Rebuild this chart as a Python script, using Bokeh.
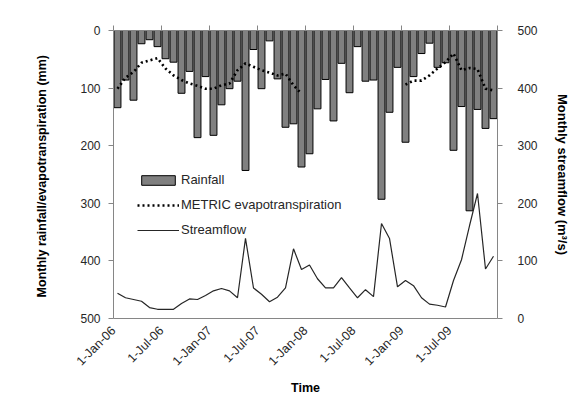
import math
import numpy as np
from bokeh.plotting import figure
from bokeh.models import (Range1d, LinearAxis, FixedTicker, Legend, LegendItem,
                          ColumnDataSource, BoxAnnotation)
from bokeh.embed import file_html
from bokeh.resources import INLINE

# ---- data (monthly, Jan 2006 - Dec 2009) ----
months = list(range(48))
rainfall = [134, 86, 121, 23, 16, 28, 49, 55, 109, 71, 186, 80,
            182, 129, 101, 88, 243, 33, 101, 18, 84, 168, 162, 237,
            214, 136, 85, 157, 57, 108, 28, 88, 86, 293, 142, 64,
            194, 80, 40, 22, 64, 56, 208, 132, 313, 137, 170, 153]
nan = float("nan")
et = [101, 82, 72, 56, 52, 48, 66, 78, 86, 92, 96, 101,
      101, 95, 92, 69, 57, 63, 69, 73, 78, 75, 95, 110,
      nan, nan, nan, nan, nan, nan, nan, nan, nan, nan, nan, nan,
      94, 87, 87, 78, 66, 55, 40, 69, 65, 67, 101, 104]
streamflow = [44, 36, 33, 30, 19, 16, 16, 16, 26, 34, 33, 40,
              48, 52, 48, 36, 139, 53, 42, 29, 37, 53, 121, 85,
              93, 69, 53, 53, 71, 53, 36, 50, 38, 165, 139, 55,
              66, 57, 36, 25, 23, 20, 66, 102, 161, 217, 86, 108]
tick_positions = [0, 6, 12, 18, 24, 30, 36, 42, 48]
tick_labels = ["1-Jan-06", "1-Jul-06", "1-Jan-07", "1-Jul-07", "1-Jan-08",
               "1-Jul-08", "1-Jan-09", "1-Jul-09", ""]
left_ticks = [0, 100, 200, 300, 400, 500]
right_ticks = [0, 100, 200, 300, 400, 500]

src = ColumnDataSource(dict(x=[m + 0.5 for m in months], rain=rainfall,
                            et=et, flow=streamflow))

FONT = "Liberation Sans"
AX = "#868686"
TXT = "#262626"

p = figure(width=579, height=398, x_range=Range1d(0, 48), y_range=Range1d(500, 0),
           output_backend="svg", toolbar_location=None,
           min_border_left=113, min_border_right=82, min_border_top=30,
           min_border_bottom=78, background_fill_color="white",
           border_fill_color="white")
p.outline_line_color = None
p.xgrid.visible = False
p.ygrid.visible = False

# chart-area border (only its left and top edges are inside the picture)
p.add_layout(BoxAnnotation(left=-106, right=600, top=311, bottom=-200,
                           left_units="screen", right_units="screen",
                           top_units="screen", bottom_units="screen",
                           fill_alpha=0, line_color="#a6a6a6", line_width=1,
                           level="underlay", editable=False))

bars = p.vbar(x="x", top=0, bottom="rain", width=0.86, source=src,
              fill_color="#808080", line_color="black", line_width=1)
etl = p.line("x", "et", source=src, line_color="black", line_width=2.6,
             line_dash="2 3")
p.extra_y_ranges = {"flow": Range1d(0, 500)}
fl = p.line("x", "flow", source=src, y_range_name="flow", line_color="#262626",
            line_width=1.2)

# bottom x axis
xa = p.xaxis[0]
xa.ticker = FixedTicker(ticks=tick_positions)
xa.major_label_overrides = {t: l for t, l in zip(tick_positions, tick_labels)}
xa.major_label_orientation = math.pi / 4
xa.major_tick_out = 0
xa.major_tick_in = 0
xa.minor_tick_out = 0
xa.minor_tick_in = 0
xa.axis_line_color = AX
xa.major_label_text_font = FONT
xa.major_label_text_font_size = "12.5px"
xa.major_label_text_color = TXT
xa.major_label_standoff = 10
xa.axis_label = "Time"
xa.axis_label_text_font = FONT
xa.axis_label_text_font_style = "bold"
xa.axis_label_text_font_size = "12.5px"
xa.axis_label_text_color = "black"
xa.axis_label_standoff = 5

# left y axis
ya = p.yaxis[0]
ya.ticker = FixedTicker(ticks=left_ticks)
ya.minor_tick_out = 0
ya.minor_tick_in = 0
ya.major_tick_in = 0
ya.major_tick_out = 5
ya.axis_line_color = AX
ya.major_tick_line_color = AX
ya.major_label_text_font = FONT
ya.major_label_text_font_size = "12px"
ya.major_label_text_color = TXT
ya.major_label_standoff = 8
ya.axis_label = "Monthly rainfall/evapotranspiration  (mm)"
ya.axis_label_text_font = FONT
ya.axis_label_text_font_style = "bold"
ya.axis_label_text_font_size = "12.5px"
ya.axis_label_text_color = "black"
ya.axis_label_standoff = 28

# top axis (tick marks only)
ta = LinearAxis(ticker=FixedTicker(ticks=tick_positions),
                major_label_overrides={t: "" for t in tick_positions},
                major_tick_out=5, major_tick_in=0, minor_tick_out=0, minor_tick_in=0,
                axis_line_color=AX, major_tick_line_color=AX,
                major_label_text_font_size="1px", major_label_standoff=0)
p.add_layout(ta, "above")

# right y axis
ra = LinearAxis(y_range_name="flow", ticker=FixedTicker(ticks=right_ticks),
                major_tick_out=5, major_tick_in=0, minor_tick_out=0, minor_tick_in=0,
                axis_line_color=AX, major_tick_line_color=AX,
                major_label_text_font=FONT, major_label_text_font_size="12px",
                major_label_text_color=TXT, major_label_standoff=15,
                axis_label="Monthly streamflow (m³/s)", axis_label_text_font=FONT,
                axis_label_text_font_style="bold", axis_label_text_font_size="13px",
                axis_label_text_color="black", axis_label_standoff=14)
p.add_layout(ra, "right")

legend = Legend(items=[LegendItem(label="Rainfall", renderers=[bars]),
                       LegendItem(label="METRIC evapotranspiration", renderers=[etl]),
                       LegendItem(label="Streamflow", renderers=[fl])],
                location=(22, 79), glyph_width=42, glyph_height=12,
                label_height=12, spacing=10, padding=2, margin=0,
                label_standoff=2, label_text_font=FONT,
                label_text_font_size="13px", label_text_color=TXT,
                border_line_alpha=0, background_fill_alpha=0)
p.add_layout(legend)

open("out.html", "w").write(file_html(p, INLINE))
